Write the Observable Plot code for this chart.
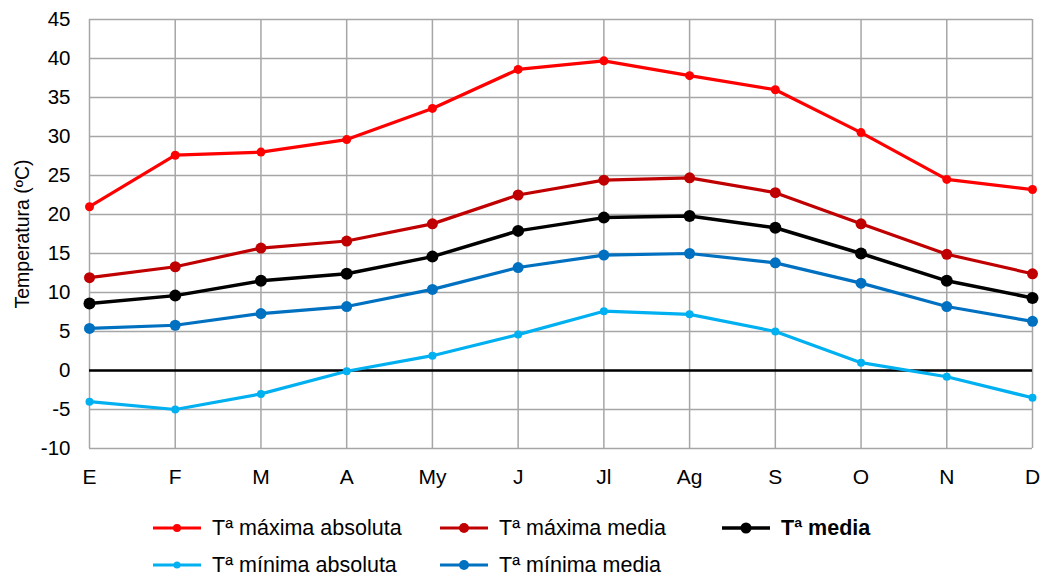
<!DOCTYPE html>
<html>
<head>
<meta charset="utf-8">
<script src="https://cdn.jsdelivr.net/npm/d3@7"></script>
<script src="https://cdn.jsdelivr.net/npm/@observablehq/plot@0.6"></script>
<style>
  body { margin: 0; background: white; font-family: "Liberation Sans", Arial, sans-serif; }
  #wrap { position: relative; width: 1041px; height: 576px; }
  #legend { position: absolute; left: 0; top: 500px; width: 1041px; height: 76px; }
  .item { position: absolute; display: flex; align-items: center; font-size: 21.5px; color: #000; white-space: nowrap; }
  .item svg { margin-right: 11px; }
</style>
</head>
<body>
<div id="wrap"><div id="chart"></div><div id="legend"></div></div>
<script>
const months = ["E","F","M","A","My","J","Jl","Ag","S","O","N","D"];
const yTicks = [-10,-5,0,5,10,15,20,25,30,35,40,45];
const seriesNames = ["Tª máxima absoluta","Tª máxima media","Tª media","Tª mínima absoluta","Tª mínima media"];
const seriesColors = ["#ff0000","#c00000","#000000","#00b0f0","#0070c0"];
const maxAbs = [21.0,27.6,28.0,29.6,33.6,38.6,39.7,37.8,36.0,30.5,24.5,23.2];
const maxMed = [11.9,13.3,15.7,16.6,18.8,22.5,24.4,24.7,22.8,18.8,14.9,12.4];
const media  = [8.6,9.6,11.5,12.4,14.6,17.9,19.6,19.8,18.3,15.0,11.5,9.3];
const minAbs = [-4.0,-5.0,-3.0,-0.1,1.9,4.6,7.6,7.2,5.0,1.0,-0.8,-3.5];
const minMed = [5.4,5.8,7.3,8.2,10.4,13.2,14.8,15.0,13.8,11.2,8.2,6.3];
const seriesValues = [maxAbs, maxMed, media, minAbs, minMed];
const dotR = [4.5,5.5,6,4,5.5];
const lineW = [3.2,3.2,3.5,3.2,3.2];

const drawOrder = [3,4,2,1,0];
const lineMarks = [];
for (const i of drawOrder) {
  const d = months.map((m, j) => ({month: m, value: seriesValues[i][j]}));
  lineMarks.push(Plot.line(d, {x: "month", y: "value", stroke: seriesColors[i], strokeWidth: lineW[i]}));
  lineMarks.push(Plot.dot(d, {x: "month", y: "value", fill: seriesColors[i], r: dotR[i], stroke: "none"}));
}

const chart = Plot.plot({
  width: 1041, height: 500,
  marginLeft: 89, marginRight: 9, marginTop: 19, marginBottom: 52,
  style: {fontFamily: "'Liberation Sans', Arial, sans-serif", background: "white", color: "#000"},
  x: {type: "point", domain: months, padding: 0, round: false, range: [89, 1032], label: null},
  y: {domain: [-10, 45], range: [448, 19], label: null},
  marks: [
    Plot.gridX(months, {stroke: "#a6a6a6", strokeOpacity: 1, strokeWidth: 1.5}),
    Plot.gridY(yTicks, {stroke: "#a6a6a6", strokeOpacity: 1, strokeWidth: 1.5}),
    Plot.axisX({tickSize: 0, tickPadding: 21, fontSize: 21, label: null}),
    Plot.axisY(yTicks, {tickSize: 0, tickPadding: 19, fontSize: 20.5, label: null, tickFormat: d => String(d)}),
    Plot.text(["Temperatura (ºC)"], {frameAnchor: "left", rotate: -90, dx: -67, fontSize: 19.5, textAnchor: "middle", lineAnchor: "middle", fill: "#000"}),
    Plot.ruleY([0], {stroke: "#000", strokeWidth: 2.5}),
    ...lineMarks
  ]
});
document.getElementById("chart").appendChild(chart);

const legendPos = [[153,28],[440,28],[722,28],[153,65],[440,65]];
const legend = document.getElementById("legend");
seriesNames.forEach((name, i) => {
  const div = document.createElement("div");
  div.className = "item";
  div.style.left = legendPos[i][0] + "px";
  div.style.top = (legendPos[i][1] - 13) + "px";
  div.style.height = "26px";
  const c = seriesColors[i];
  div.innerHTML = `<svg width="48" height="14"><line x1="0" x2="48" y1="7" y2="7" stroke="${c}" stroke-width="${lineW[i]}"/><circle cx="24" cy="7" r="${Math.max(dotR[i]-0.5,3.5)}" fill="${c}"/></svg><span style="${i===2?'font-weight:bold':''}">${name}</span>`;
  legend.appendChild(div);
});
</script>
</body>
</html>
